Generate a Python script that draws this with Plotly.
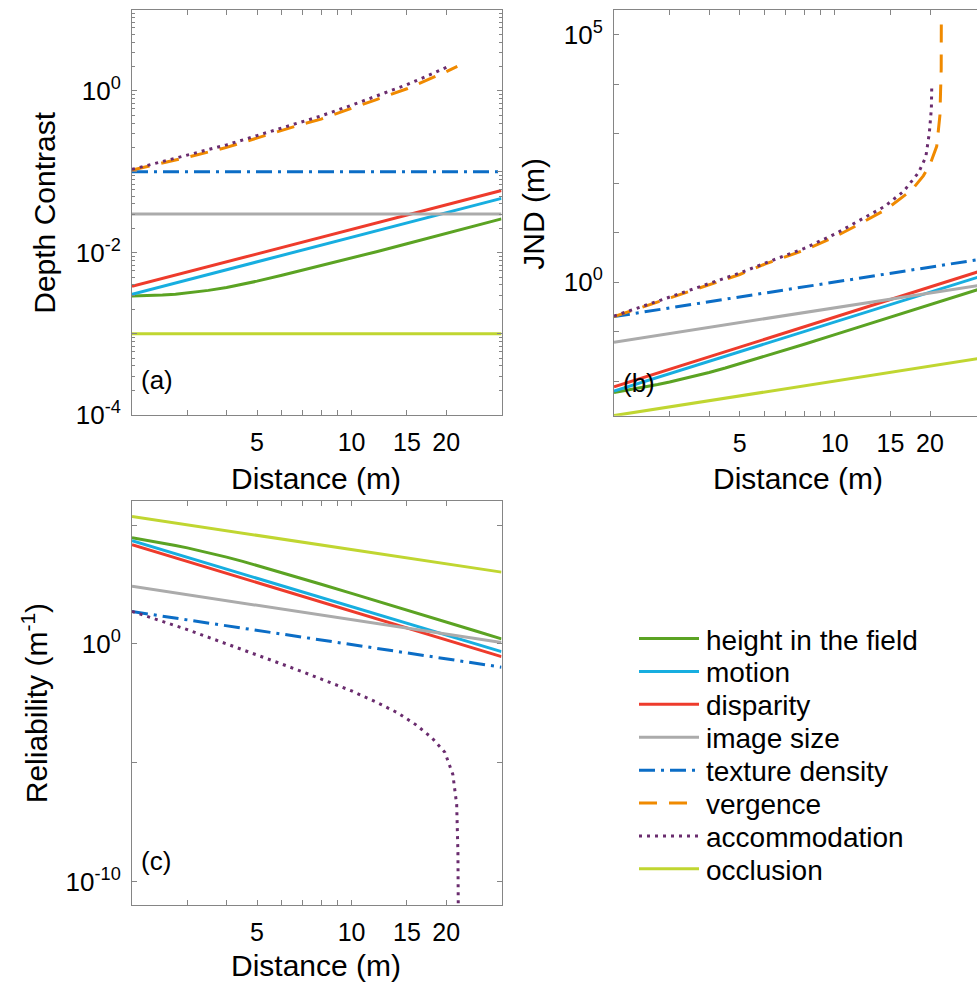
import numpy as np
import plotly.graph_objects as go

# ------------------------------------------------------------------
# DATA
# ------------------------------------------------------------------
series_names = ["height in the field", "motion", "disparity", "image size",
                "texture density", "vergence", "accommodation", "occlusion"]

line_dist = [2, 30]                      # straight lines: end points (m)

# ---- panel (a): depth contrast ----
a_height_dist = [2, 2.25, 2.5, 2.75, 3, 3.5, 4, 4.5, 5, 6, 7, 8, 10, 12, 15,
                 20, 25, 30]
a_height = [0.00293, 0.00295, 0.00300, 0.00308, 0.00318, 0.00343, 0.00372,
            0.00407, 0.00446, 0.00528, 0.0061, 0.0069, 0.00866, 0.0103,
            0.0129, 0.0173, 0.0217, 0.0262]
a_motion = [0.00307, 0.0469]
a_disparity = [0.00385, 0.0586]
a_image_size = [0.0302, 0.0302]
a_texture = [0.1, 0.1]
a_verg_dist = [2, 3, 4, 5, 6, 7, 8, 10, 12, 15, 18, 20, 21.7]
a_vergence = [0.105, 0.151, 0.20, 0.26, 0.328, 0.39, 0.447, 0.60, 0.78,
              1.06, 1.43, 1.72, 2.0]
a_acc_dist = [2, 3, 4, 5, 6, 7, 8, 10, 12, 15, 18, 20.3]
a_accommodation = [0.107, 0.16, 0.215, 0.28, 0.35, 0.42, 0.49, 0.665, 0.86,
                   1.19, 1.62, 2.0]
a_occlusion = [0.001, 0.001]

# ---- panel (b): JND (m) ----
b_height_dist = a_height_dist
b_height = [0.00586, 0.00664, 0.0075, 0.00847, 0.00954, 0.0120, 0.0149,
            0.0183, 0.0223, 0.0317, 0.0427, 0.0555, 0.0866, 0.124, 0.194,
            0.346, 0.543, 0.786]
b_motion = [0.0063, 1.4]
b_disparity = [0.0076, 1.8]
b_image_size = [0.061, 0.9]
b_texture = [0.2, 3.0]
b_verg_dist = [2, 3, 4, 5, 6, 7, 8, 10, 12, 14.6, 17.5, 19.05, 20.0, 21.0,
               21.25, 21.5, 21.6, 21.7, 21.72]
b_vergence = [0.2, 0.47, 0.87, 1.42, 2.3, 3.3, 4.4, 8.2, 15, 30, 72, 140, 238,
              553, 1020, 2350, 6900, 2.0e4, 2.2e5]
b_acc_dist = [2, 3, 4, 5, 6, 7, 8, 10, 10.6, 12.3, 14.4, 16.5, 18.4, 19.4,
              19.9, 20.2, 20.26]
b_accommodation = [0.205, 0.49, 0.92, 1.52, 2.4, 3.5, 4.8, 9.3, 11.5, 19, 34,
                   68, 163, 339, 1020, 3200, 9300]
b_occlusion = [0.002, 0.03]

# ---- panel (c): reliability (1/m) ----
c_height_dist = a_height_dist
c_height = [2.91e4, 2.27e4, 1.78e4, 1.39e4, 1.10e4, 6940, 4500, 2990, 2010,
            995, 548, 325, 133, 65, 26.6, 8.35, 3.39, 1.62]
c_motion = [2.2e4, 0.47]
c_disparity = [1.5e4, 0.29]
c_image_size = [265, 1.15]
c_texture = [23, 0.105]
c_acc_dist = [2, 2.5, 3, 4, 5, 6, 7, 8, 10, 12, 14, 16, 18, 19.8, 21.0, 21.6,
              21.8, 21.85, 21.87]
c_accommodation = [23.4, 8.9, 4.0, 1.0, 0.355, 0.141, 0.066, 0.034, 0.0105,
                   3.5e-3, 1.26e-3, 4.0e-4, 1.12e-4, 2.75e-5, 3.2e-6, 1.74e-7,
                   1.6e-9, 1.26e-11, 3.2e-12]
c_occlusion = [2.3e5, 1.05e3]

# axis ticks
x_tick_vals = [3, 4, 5, 6, 7, 8, 9, 10, 15, 20]
x_tick_text = ["", "", "5", "", "", "", "", "10", "15", "20"]

# ------------------------------------------------------------------
# STYLE / LAYOUT
# ------------------------------------------------------------------
FONT = "Liberation Sans, Arial, Helvetica, sans-serif"
AX = "#858585"
style = {
    "height in the field": dict(color="#5BA323", width=3, dash="solid"),
    "motion": dict(color="#17AEE0", width=3, dash="solid"),
    "disparity": dict(color="#EE3B2C", width=3, dash="solid"),
    "image size": dict(color="#ABABAB", width=3, dash="solid"),
    "texture density": dict(color="#0B6DC6", width=3, dash="16px,6px,3px,6px"),
    "vergence": dict(color="#F08A00", width=3, dash="18px,12px"),
    "accommodation": dict(color="#6A2C6E", width=3, dash="3px,5px"),
    "occlusion": dict(color="#C0D631", width=3, dash="solid"),
}

W, H = 977, 999


def px_x(p):           # p = pixel position in the reference picture
    return p / W


def px_y(p):
    return 1 - p / H


fig = go.Figure()


def add(name, x, y, xa, ya):
    fig.add_trace(go.Scatter(x=x, y=y, mode="lines", name=name,
                             line=style[name], xaxis=xa, yaxis=ya,
                             showlegend=False, hoverinfo="skip"))


panels = {
    "a": ("x", "y", [
        ("height in the field", a_height_dist, a_height),
        ("motion", line_dist, a_motion),
        ("disparity", line_dist, a_disparity),
        ("image size", line_dist, a_image_size),
        ("texture density", line_dist, a_texture),
        ("vergence", a_verg_dist, a_vergence),
        ("accommodation", a_acc_dist, a_accommodation),
        ("occlusion", line_dist, a_occlusion)]),
    "b": ("x2", "y2", [
        ("height in the field", b_height_dist, b_height),
        ("motion", line_dist, b_motion),
        ("disparity", line_dist, b_disparity),
        ("image size", line_dist, b_image_size),
        ("texture density", line_dist, b_texture),
        ("vergence", b_verg_dist, b_vergence),
        ("accommodation", b_acc_dist, b_accommodation),
        ("occlusion", line_dist, b_occlusion)]),
    "c": ("x3", "y3", [
        ("height in the field", c_height_dist, c_height),
        ("motion", line_dist, c_motion),
        ("disparity", line_dist, c_disparity),
        ("image size", line_dist, c_image_size),
        ("texture density", line_dist, c_texture),
        ("accommodation", c_acc_dist, c_accommodation),
        ("occlusion", line_dist, c_occlusion)]),
}
for key, (xa, ya, items) in panels.items():
    for name, x, y in items:
        add(name, x, y, xa, ya)


def xaxis(domain, rng, anchor):
    return dict(type="log", domain=domain, range=rng, anchor=anchor,
                tickmode="array", tickvals=x_tick_vals, ticktext=x_tick_text,
                ticks="inside", ticklen=5, tickcolor=AX, tickwidth=1,
                showline=True, linecolor=AX, linewidth=1, mirror="ticks",
                showgrid=False, zeroline=False, ticklabelstandoff=5,
                tickfont=dict(family=FONT, size=25, color="black"))


def yaxis(domain, rng, anchor, vals, texts, minor_vals=None, mirror="ticks"):
    d = dict(type="log", domain=domain, range=rng, anchor=anchor,
             tickmode="array", tickvals=vals, ticktext=texts,
             ticks="inside", ticklen=5, tickcolor=AX, tickwidth=1,
             showline=True, linecolor=AX, linewidth=1, mirror=mirror,
             showgrid=False, zeroline=False, ticklabelstandoff=5,
             tickfont=dict(family=FONT, size=26, color="black"))
    if minor_vals is not None:
        d["minor"] = dict(tickmode="array", tickvals=minor_vals,
                          ticks="inside", ticklen=3, tickcolor=AX,
                          showgrid=False)
    return d


minor_a = [m * 10.0 ** e for e in range(-4, 1) for m in range(2, 10)]

xa_dom = [px_x(132), px_x(501.5)]
xb_dom = [px_x(614), 1.0]
ya_dom = [px_y(421), px_y(10)]
yb_dom = [px_y(422), px_y(10)]
yc_dom = [px_y(919), px_y(509)]
xb_max = np.log10(2) + (W - 614) / 316.0

fig.update_layout(
    width=W, height=H, autosize=False,
    margin=dict(l=0, r=0, t=0, b=0),
    paper_bgcolor="white", plot_bgcolor="white",
    font=dict(family=FONT, color="black"),
    showlegend=False,
    xaxis=xaxis(xa_dom, [np.log10(2), np.log10(30)], "y"),
    yaxis=yaxis(ya_dom, [-4, 1], "x",
                [1e-4, 1e-3, 1e-2, 1e-1, 1, 10],
                ["10<sup>-4</sup>", "", "10<sup>-2</sup>", "", "10<sup>0</sup>", ""],
                minor_a),
    xaxis2=xaxis(xb_dom, [np.log10(2), xb_max], "y2"),
    yaxis2=yaxis(yb_dom, [-2.7, 5.5], "x2",
                 [1e-2, 1e-1, 1, 10, 1e2, 1e3, 1e4, 1e5],
                 ["", "", "10<sup>0</sup>", "", "", "", "", "10<sup>5</sup>"],
                 mirror=False),
    xaxis3=xaxis(xa_dom, [np.log10(2), np.log10(30)], "y3"),
    yaxis3=yaxis(yc_dom, [-11, 6], "x3",
                 [1e-10, 1e-5, 1, 1e5],
                 ["10<sup>-10</sup>", "", "10<sup>0</sup>", ""]),
)


def label(txt, x, y, size, angle=0, xanchor="center", yanchor="middle"):
    fig.add_annotation(text=txt, x=px_x(x), y=px_y(y), xref="paper",
                       yref="paper", xanchor=xanchor, yanchor=yanchor,
                       textangle=angle, showarrow=False,
                       font=dict(family=FONT, size=size, color="black"))


# axis titles
label("Depth Contrast", 45, 216, 30, angle=-90)
label("JND (m)", 534, 217, 30, angle=-90)
label("Reliability (m<sup>-1</sup>)", 35, 714, 30, angle=-90)
label("Distance (m)", 316, 486, 30)
label("Distance (m)", 798, 486, 30)
label("Distance (m)", 316, 999, 30, yanchor="bottom")

# panel labels
label("(a)", 139, 386, 26, xanchor="left")
label("(b)", 621, 389, 26, xanchor="left")
label("(c)", 139, 874, 26, xanchor="left")

# legend (drawn by hand to match the reference layout)
leg_top, leg_step = 648.3, 33.4
for i, name in enumerate(series_names):
    yy = leg_top + i * leg_step
    st = style[name]
    fig.add_shape(type="line", xref="paper", yref="paper",
                  x0=px_x(639), x1=px_x(699), y0=px_y(yy), y1=px_y(yy),
                  line=dict(color=st["color"], width=st["width"],
                            dash=st["dash"]))
    label(name, 704, yy + 1.5, 28, xanchor="left")

# page exactly the size of the figure: no default body margin, no overflow
page_css = ("var s=document.createElement('style');"
            "s.innerHTML='html,body{margin:0;padding:0;overflow:hidden;"
            "width:977px;height:999px;} .plotly-graph-div{overflow:hidden;}';"
            "document.head.appendChild(s);")

fig.write_html("out.html", config={"displayModeBar": False},
               post_script=page_css)
